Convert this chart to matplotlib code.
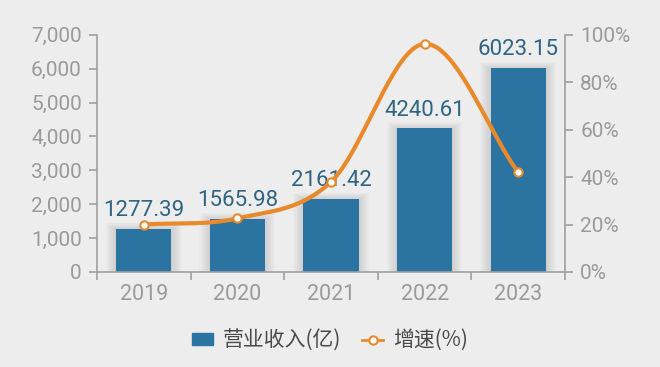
import numpy as np
import matplotlib
matplotlib.use("Agg")
import matplotlib.pyplot as plt
from matplotlib.patches import FancyBboxPatch
from matplotlib.lines import Line2D
from matplotlib.ticker import FuncFormatter

plt.rcParams['font.family'] = ['Roboto', 'Noto Sans CJK SC', 'DejaVu Sans']

years = ['2019', '2020', '2021', '2022', '2023']
revenue = [1277.39, 1565.98, 2161.42, 4240.61, 6023.15]
growth = [20.0, 22.6, 38.0, 96.2, 42.0]

bg = '#ededed'
bar_c = '#2b73a0'
line_c = '#e88a2c'
axis_c = '#a0a0a0'
tick_c = '#9a9a9a'
lab_c = '#2f6482'


def smooth(xs, ys, n=40):
    # catmull-rom style curve through the points
    xs = np.asarray(xs, float)
    ys = np.asarray(ys, float)
    m = np.zeros_like(ys)
    m[1:-1] = (ys[2:] - ys[:-2]) / 2
    m[0] = ys[1] - ys[0]
    m[-1] = ys[-1] - ys[-2]
    ox, oy = [], []
    for i in range(len(xs) - 1):
        t = np.linspace(0, 1, n)
        h00 = 2*t**3 - 3*t**2 + 1
        h10 = t**3 - 2*t**2 + t
        h01 = -2*t**3 + 3*t**2
        h11 = t**3 - t**2
        ox.extend(xs[i] + t)
        oy.extend(h00*ys[i] + h10*m[i] + h01*ys[i+1] + h11*m[i+1])
    return np.array(ox), np.array(oy)


fig = plt.figure(figsize=(6.6, 3.67), dpi=100, facecolor=bg)
ax = fig.add_axes([0.147, 0.259, 0.709, 0.646])
ax.set_facecolor(bg)
x = np.arange(len(years))

# soft shadow behind bars
for k in range(10):
    ax.bar(x, np.array(revenue) + 20*k, width=0.59 + 0.022*(k+1), color='#000000',
           alpha=0.012, zorder=1, lw=0)
ax.bar(x, revenue, width=0.59, color=bar_c, zorder=2)

for xi, v in zip(x, revenue):
    ax.text(xi, v + 230, f'{v:.2f}', ha='center', va='bottom', color=lab_c, fontsize=16, zorder=5)

ax.set_xlim(-0.5, 4.5)
ax.set_ylim(0, 7000)
ax.set_yticks(np.arange(0, 7001, 1000))
ax.yaxis.set_major_formatter(FuncFormatter(lambda v, p: f'{int(v):,}'))
ax.set_xticks(np.arange(-0.5, 5, 1))
ax.set_xticklabels([])
ax.set_xticks(x, minor=True)
ax.set_xticklabels(years, minor=True)
ax.tick_params(axis='x', which='minor', length=0, pad=9, labelsize=15.5, labelcolor=tick_c)
ax.tick_params(axis='x', which='major', length=6, color=axis_c, width=1.2)
ax.tick_params(axis='y', length=6, color=axis_c, width=1.2, labelsize=15, labelcolor=tick_c, pad=5)
for s in ['top', 'right']:
    ax.spines[s].set_visible(False)
for s in ['left', 'bottom']:
    ax.spines[s].set_color(axis_c)
    ax.spines[s].set_linewidth(1.2)

ax2 = ax.twinx()
ax2.set_ylim(0, 100)
ax2.set_yticks(np.arange(0, 101, 20))
ax2.yaxis.set_major_formatter(FuncFormatter(lambda v, p: f'{int(v)}%'))
ax2.tick_params(axis='y', length=6, color=axis_c, width=1.2, labelsize=15, labelcolor=tick_c, pad=5)
for s in ['top', 'left', 'bottom']:
    ax2.spines[s].set_visible(False)
ax2.spines['right'].set_color(axis_c)
ax2.spines['right'].set_linewidth(1.2)

sx, sy = smooth(x, growth)
ax2.plot(sx, sy, color=line_c, lw=3, zorder=3, solid_capstyle='round')
ax2.plot(x, growth, 'o', ms=6, mfc='white', mec=line_c, mew=1.5, zorder=4)

h1 = FancyBboxPatch((0, 0), 1, 1, boxstyle='round,pad=0.1', color=bar_c)
h2 = Line2D([], [], color=line_c, lw=2, marker='o', ms=6, mfc='white', mec=line_c, mew=1.5)
fig.legend([h1, h2], ['营业收入(亿)', '增速(%)'], loc='center', bbox_to_anchor=(0.5, 0.073),
           ncol=2, frameon=False, labelcolor='#4a4a4a',
           handlelength=1.0, handleheight=0.5, handletextpad=0.5, columnspacing=1.0,
           prop={'family': ['Noto Sans CJK SC', 'DejaVu Sans'], 'size': 15})

fig.savefig('out.png', dpi=100, facecolor=bg)
